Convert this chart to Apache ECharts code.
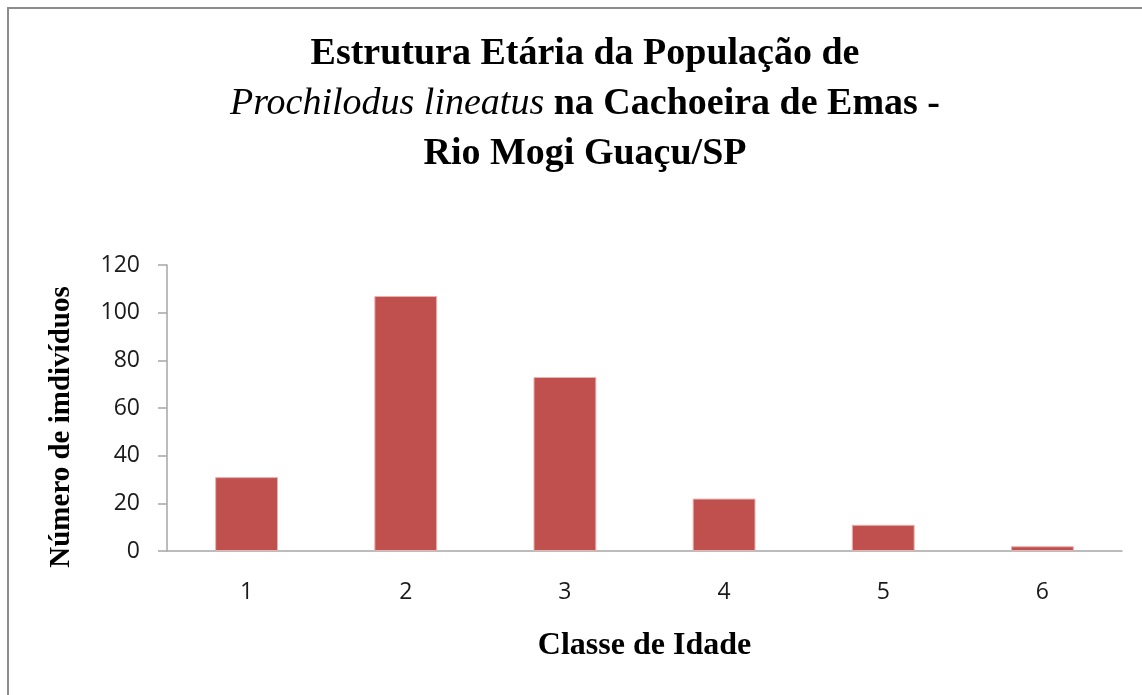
<!DOCTYPE html>
<html>
<head>
<meta charset="utf-8">
<script src="https://cdn.jsdelivr.net/npm/echarts@6/dist/echarts.min.js"></script>
<style>
html,body{margin:0;padding:0;background:#fff;}
#chart{width:1142px;height:695px;}
</style>
</head>
<body>
<div id="chart"></div>
<script>
var categories = ['1', '2', '3', '4', '5', '6'];
var individuals = [31, 107, 73, 22, 11, 2];
var yTicks = [0, 20, 40, 60, 80, 100, 120];

var chart = echarts.init(document.getElementById('chart'));
var serif = '"Liberation Serif", "DejaVu Serif", serif';
var sans = '"Open Sans", "Liberation Sans", sans-serif';
var option = {
  backgroundColor: '#ffffff',
  animation: false,
  graphic: [{
    type: 'rect',
    shape: { x: 8, y: 8, width: 1160, height: 720 },
    style: { fill: 'none', stroke: '#8c8c8c', lineWidth: 2 },
    silent: true
  }],
  title: {
    left: 580,
    top: 24,
    textAlign: 'center',
    text: '{b|Estrutura Etária da População de}\n{i|Prochilodus lineatus}{b| na Cachoeira de Emas -}\n{b|Rio Mogi Guaçu/SP}',
    textStyle: {
      rich: {
        b: { fontFamily: serif, fontWeight: 'bold', fontSize: 38, color: '#000', lineHeight: 50 },
        i: { fontFamily: serif, fontStyle: 'italic', fontWeight: 'normal', fontSize: 38, color: '#000', lineHeight: 50 }
      }
    }
  },
  grid: { left: 167, right: 20, top: 265, bottom: 144, containLabel: false },
  xAxis: {
    type: 'category',
    data: categories,
    name: 'Classe de Idade',
    nameLocation: 'middle',
    nameGap: 79,
    nameTextStyle: { fontFamily: serif, fontWeight: 'bold', fontSize: 32, color: '#000' },
    axisLine: { lineStyle: { color: '#a6a6a6', width: 1.5 } },
    axisTick: { show: false },
    axisLabel: { fontFamily: sans, fontSize: 23, color: '#1a1a1a', margin: 30 }
  },
  yAxis: {
    type: 'value',
    min: yTicks[0],
    max: yTicks[yTicks.length - 1],
    interval: yTicks[1] - yTicks[0],
    name: 'Número de imdivíduos',
    nameLocation: 'middle',
    nameGap: 91,
    nameRotate: 90,
    nameTextStyle: { fontFamily: serif, fontWeight: 'bold', fontSize: 29, color: '#000', padding: [0, 38, 0, 0] },
    axisLine: { show: true, lineStyle: { color: '#a6a6a6', width: 1.5 } },
    axisTick: { show: true, inside: false, length: 9, lineStyle: { color: '#a6a6a6', width: 1.5 } },
    splitLine: { show: false },
    axisLabel: { fontFamily: sans, fontSize: 23, color: '#1a1a1a', margin: 27 }
  },
  series: [{
    type: 'bar',
    data: individuals,
    barWidth: '39.5%',
    itemStyle: { color: '#c0504d', borderColor: '#e9b3b1', borderWidth: 1 }
  }]
};
chart.setOption(option);
</script>
</body>
</html>
